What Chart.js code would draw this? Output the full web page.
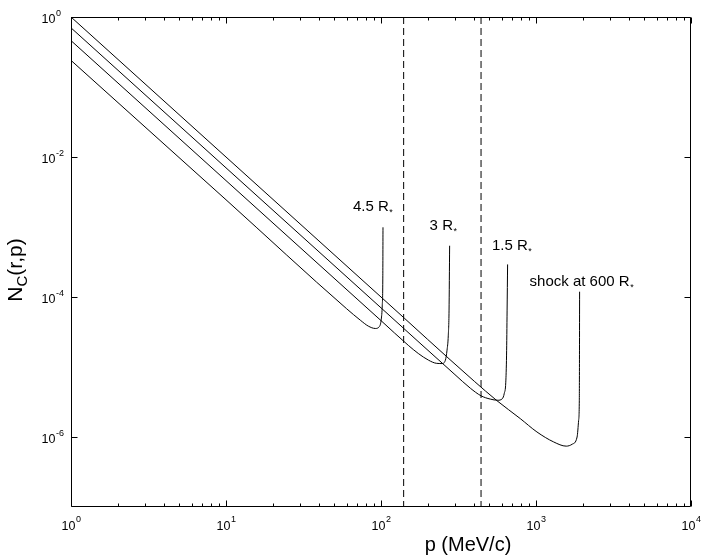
<!DOCTYPE html>
<html><head><meta charset="utf-8">
<script src="https://cdn.jsdelivr.net/npm/chart.js@4/dist/chart.umd.min.js"></script>
<style>html,body{margin:0;padding:0;background:#fff}canvas{display:block}</style>
</head><body>
<canvas id="c" width="707" height="559"></canvas>
<script>
// ---- data (p in MeV/c, N_C dimensionless) ----
const shockP = [1, 10, 100, 400, 560, 792, 1014, 1300, 1567, 1714, 1841, 1884, 1903, 1908, 1911];
const shockN = [1, 1e-2, 1e-4, 6.25e-6, 3.3e-6, 1.83e-6, 1.18e-6, 8.5e-7, 7.4e-7, 7.9e-7, 1.0e-6, 1.73e-6, 3.35e-6, 1.74e-5, 1.19e-4];

const r15P = [1, 10, 100, 300, 377, 441.7, 507, 567, 606, 624.5, 638.3, 645.7, 651, 655.8];
const r15N = [0.70, 7e-3, 7e-5, 7.78e-6, 4.98e-6, 3.88e-6, 3.48e-6, 3.35e-6, 3.52e-6, 4.22e-6, 6.06e-6, 1.48e-5, 6.5e-5, 2.92e-4];

const r3P = [1, 10, 100, 150, 174, 202.8, 227.3, 247.6, 260.2, 266.7, 271.8, 274.8, 277.2];
const r3N = [0.46, 4.6e-3, 4.6e-5, 2.04e-5, 1.56e-5, 1.25e-5, 1.13e-5, 1.12e-5, 1.25e-5, 1.74e-5, 2.85e-5, 6.5e-5, 5.4e-4];

const r45P = [1, 10, 60, 73.5, 82.8, 91.9, 97.5, 100.4, 101.9, 102.7, 103.0];
const r45N = [0.24, 2.45e-3, 6.8e-5, 4.67e-5, 3.84e-5, 3.55e-5, 3.77e-5, 4.83e-5, 7.66e-5, 1.75e-4, 9.9e-4];

const dashedP = [140, 442];

const curveLabels = ['4.5 R', '3 R', '1.5 R', 'shock at 600 R'];
const labelSub = '*';

const xTickValues = [1, 10, 100, 1000, 10000];
const xTickExps = ['0', '1', '2', '3', '4'];
const yTickValues = [1, 1e-2, 1e-4, 1e-6];
const yTickExps = ['0', '-2', '-4', '-6'];

const xTitle = 'p (MeV/c)';
const yTitleMain = 'N', yTitleSub = 'C', yTitleRest = '(r,p)';

// ---- build chart ----
const FONT = '"Liberation Sans", Arial, Helvetica, sans-serif';
const toXY = (P, N) => P.map((p, i) => ({x: p, y: N[i]}));
const curveStyle = {borderColor: '#000', borderWidth: 1, pointRadius: 0, fill: false, cubicInterpolationMode: 'monotone'};

const datasets = [
  Object.assign({label: 'shock', data: toXY(shockP, shockN)}, curveStyle),
  Object.assign({label: '1.5', data: toXY(r15P, r15N)}, curveStyle),
  Object.assign({label: '3', data: toXY(r3P, r3N)}, curveStyle),
  Object.assign({label: '4.5', data: toXY(r45P, r45N)}, curveStyle),
];
dashedP.forEach(p => datasets.push({
  label: 'dash', data: [{x: p, y: 1}, {x: p, y: 1e-7}],
  borderColor: '#000', borderWidth: 1, borderDash: [7, 4], pointRadius: 0, fill: false, tension: 0
}));

// label anchors (data coords of the left end of each label's baseline)
const labelAnchors = [
  {p: 65.9, n: 1.69e-3}, {p: 205.9, n: 9.06e-4}, {p: 520, n: 4.69e-4}, {p: 909, n: 1.445e-4}
];

const axesPlugin = {
  id: 'matlabAxes',
  afterDraw(chart) {
    const {ctx, chartArea: a} = chart;
    const xs = chart.scales.x, ys = chart.scales.y;
    const L = Math.round(a.left) + 0.5, R = Math.round(a.right) - 0.5;
    const T = Math.round(a.top) + 0.5, B = Math.round(a.bottom) - 0.5;
    ctx.save();
    ctx.strokeStyle = '#000';
    ctx.lineWidth = 1;
    ctx.beginPath();
    ctx.rect(L, T, R - L, B - T);
    ctx.stroke();

    // x ticks (major + minor), bottom and top, inward
    ctx.beginPath();
    for (let k = 0; k < xTickValues.length; k++) {
      const v = xTickValues[k];
      const px = Math.round(xs.getPixelForValue(v)) + 0.5;
      ctx.moveTo(px, B); ctx.lineTo(px, B - 6);
      ctx.moveTo(px, T); ctx.lineTo(px, T + 6);
      if (k < xTickValues.length - 1) {
        for (let d = 2; d <= 9; d++) {
          const mx = Math.round(xs.getPixelForValue(v * d)) + 0.5;
          ctx.moveTo(mx, B); ctx.lineTo(mx, B - 3);
          ctx.moveTo(mx, T); ctx.lineTo(mx, T + 3);
        }
      }
    }
    // y ticks left and right
    yTickValues.forEach(v => {
      const py = Math.round(ys.getPixelForValue(v)) + 0.5;
      ctx.moveTo(L, py); ctx.lineTo(L + 6, py);
      ctx.moveTo(R, py); ctx.lineTo(R - 6, py);
    });
    ctx.stroke();

    // tick labels
    ctx.fillStyle = '#000';
    ctx.textBaseline = 'alphabetic';
    const baseFont = '12.5px ' + FONT, expFont = '9px ' + FONT;
    xTickValues.forEach((v, i) => {
      const px = xs.getPixelForValue(v);
      ctx.font = baseFont; const w1 = ctx.measureText('10').width;
      ctx.font = expFont; const w2 = ctx.measureText(xTickExps[i]).width;
      const x0 = px - (w1 + w2) / 2;
      ctx.textAlign = 'left';
      ctx.font = baseFont; ctx.fillText('10', x0, a.bottom + 23);
      ctx.font = expFont; ctx.fillText(xTickExps[i], x0 + w1 + 0.5, a.bottom + 15);
    });
    yTickValues.forEach((v, i) => {
      const py = ys.getPixelForValue(v);
      ctx.textAlign = 'right';
      ctx.font = baseFont; ctx.fillText('10', a.left - 15.5, py + 6);
      ctx.textAlign = 'left';
      ctx.font = expFont; ctx.fillText(yTickExps[i], a.left - 15, py - 1.5);
    });

    // axis titles
    ctx.font = '20px ' + FONT;
    ctx.textAlign = 'center';
    ctx.fillText(xTitle, 468, 551);

    ctx.save();
    ctx.translate(22, 270);
    ctx.rotate(-Math.PI / 2);
    const fMain = '21px ' + FONT, fSub = '15px ' + FONT;
    ctx.font = fMain; const wN = ctx.measureText(yTitleMain).width, wR = ctx.measureText(yTitleRest).width;
    ctx.font = fSub; const wC = ctx.measureText(yTitleSub).width;
    let sx = -(wN + wC + wR) / 2;
    ctx.textAlign = 'left';
    ctx.font = fMain; ctx.fillText(yTitleMain, sx, 0); sx += wN;
    ctx.font = fSub; ctx.fillText(yTitleSub, sx, 5); sx += wC;
    ctx.font = fMain; ctx.fillText(yTitleRest, sx, 0);
    ctx.restore();

    // curve annotations
    curveLabels.forEach((t, i) => {
      const lx = xs.getPixelForValue(labelAnchors[i].p);
      const ly = ys.getPixelForValue(labelAnchors[i].n);
      ctx.textAlign = 'left';
      ctx.font = '15px ' + FONT;
      ctx.fillText(t, lx, ly);
      const w = ctx.measureText(t).width;
      ctx.font = '9px ' + FONT;
      ctx.fillText(labelSub, lx + w + 0.5, ly + 4);
    });
    ctx.restore();
  }
};

new Chart(document.getElementById('c'), {
  type: 'line',
  data: {datasets},
  options: {
    responsive: false,
    animation: false,
    devicePixelRatio: 1,
    parsing: true,
    layout: {padding: {left: 71, top: 17, right: 16, bottom: 52}},
    plugins: {legend: {display: false}, tooltip: {enabled: false}},
    scales: {
      x: {type: 'logarithmic', min: 1, max: 10000, display: false},
      y: {type: 'logarithmic', min: 1e-7, max: 1, display: false}
    }
  },
  plugins: [axesPlugin]
});
</script>
</body></html>
